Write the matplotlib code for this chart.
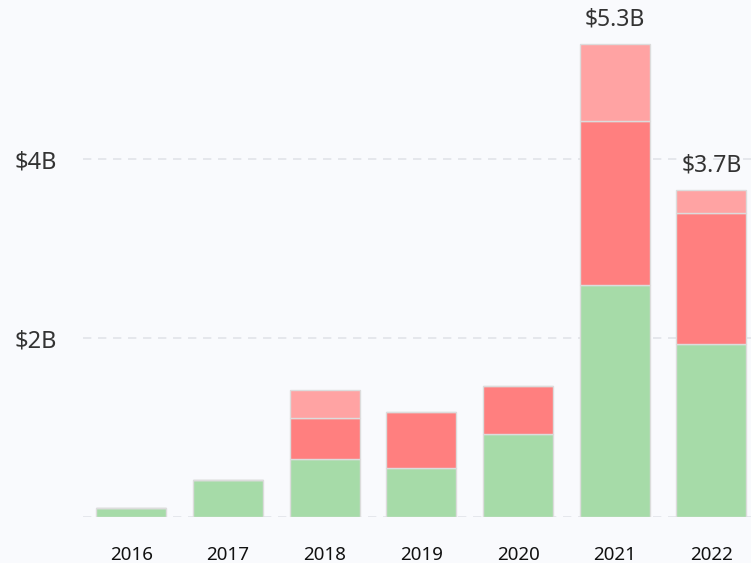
import matplotlib.pyplot as plt
import numpy as np

plt.rcParams['font.family'] = ['Noto Sans', 'DejaVu Sans']

# ========== Data (billions USD) ==========
years = ['2016', '2017', '2018', '2019', '2020', '2021', '2022']
green = [0.10, 0.41, 0.65, 0.55, 0.93, 2.59, 1.93]
red = [0.00, 0.00, 0.46, 0.62, 0.54, 1.84, 1.47]
light_red = [0.00, 0.00, 0.31, 0.00, 0.00, 0.86, 0.26]
total_labels = {5: '$5.3B', 6: '$3.7B'}

ytick_vals = [0, 2, 4]
ytick_text = ['', '$2B', '$4B']

bg = '#f9fafd'
fig = plt.figure(figsize=(7.51, 5.63), dpi=100, facecolor=bg)
ax = fig.add_axes([0.1105, 0.0817, 0.8895, 0.9183], facecolor=bg)

x = np.arange(len(years))
w = 0.724
edge = dict(edgecolor='#dcdcdc', linewidth=1)
ax.bar(x, green, w, color='#a6dba8', zorder=3, **edge)
ax.bar(x, red, w, bottom=green, color='#ff7f7f', zorder=3, **edge)
bottom2 = np.array(green) + np.array(red)
ax.bar(x, light_red, w, bottom=bottom2, color='#ffa3a3', zorder=3, **edge)

totals = bottom2 + np.array(light_red)
for i, lab in total_labels.items():
    ax.annotate(lab, (x[i], totals[i]), xytext=(0, 9), textcoords='offset points',
                ha='center', va='bottom', fontsize=16.5, color='#333333')

ax.set_xlim(-0.5, 6.41)
ax.set_ylim(0, 5.78)
ax.set_yticks(ytick_vals)
ax.set_yticklabels(ytick_text, fontsize=17, color='#333333')
ax.set_xticks(x)
ax.set_xticklabels(years, fontsize=13.5, color='#111111')
ax.tick_params(axis='y', length=0, pad=19)
ax.tick_params(axis='x', length=0, pad=21)
ax.grid(axis='y', color='#e2e4e9', linestyle=(0, (5, 4)), linewidth=1.2, zorder=0)
for s in ax.spines.values():
    s.set_visible(False)

fig.savefig('out.png', dpi=100, facecolor=bg)
